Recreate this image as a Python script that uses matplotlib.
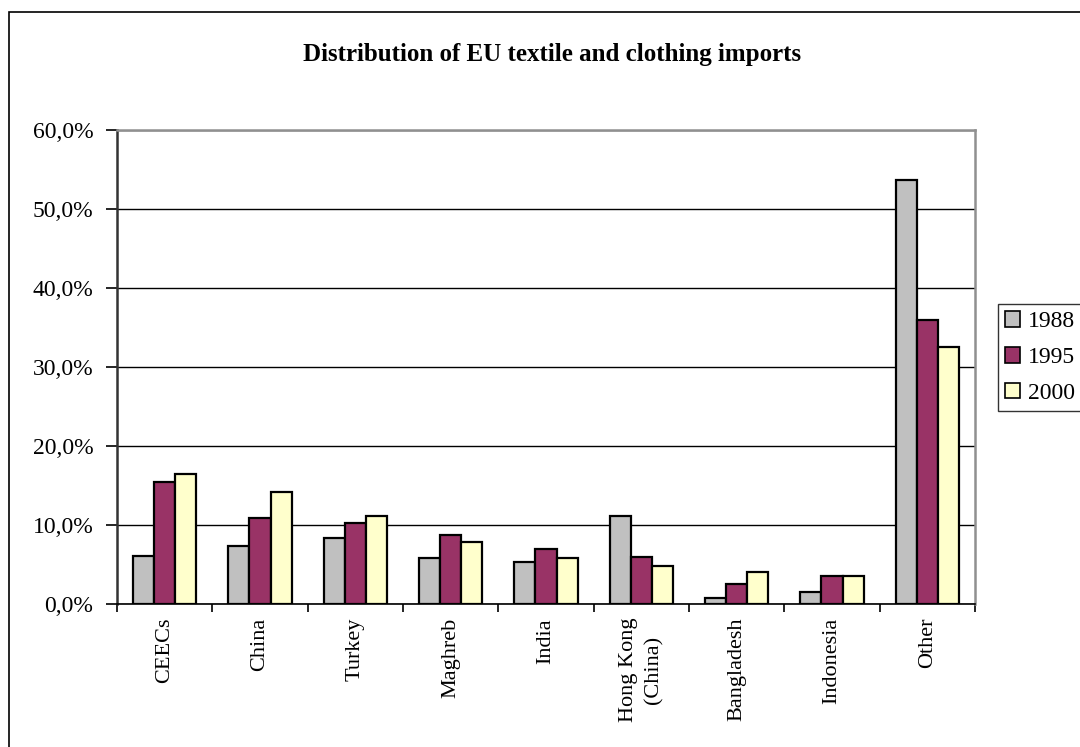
import matplotlib
matplotlib.use("Agg")
import matplotlib.pyplot as plt
import numpy as np
from matplotlib.patches import Rectangle
from matplotlib.ticker import FuncFormatter, FixedLocator

plt.rcParams["font.family"] = ["Liberation Serif", "DejaVu Serif"]

# Share of EU textile and clothing imports by origin (%)
categories = ["CEECs", "China", "Turkey", "Maghreb", "India",
              "Hong Kong\n(China)", "Bangladesh", "Indonesia", "Other"]
years = ["1988", "1995", "2000"]
share_1988 = [6.1, 7.3, 8.4, 5.8, 5.3, 11.1, 0.8, 1.5, 53.7]
share_1995 = [15.4, 10.9, 10.2, 8.7, 7.0, 6.0, 2.5, 3.5, 36.0]
share_2000 = [16.5, 14.2, 11.2, 7.9, 5.8, 4.8, 4.0, 3.5, 32.5]
series = [share_1988, share_1995, share_2000]
colors = ["#C0C0C0", "#993366", "#FFFFCC"]

fig = plt.figure(figsize=(10.8, 7.47), dpi=100)
ax = fig.add_axes([117 / 1080, 1 - 604 / 747, (975 - 117) / 1080, (604 - 130) / 747])

# outer chart frame
fig.patches.append(Rectangle((9 / 1080, -0.01), 1.0, 1 - 12 / 747 + 0.01,
                             transform=fig.transFigure, fill=False,
                             edgecolor="black", linewidth=1.2, clip_on=False))

x = np.arange(len(categories))
bar_w = 1 / 4.5
for i, (vals, col, yr) in enumerate(zip(series, colors, years)):
    ax.bar(x + (i - 1) * bar_w, vals, width=bar_w, color=col,
           edgecolor="black", linewidth=1.6, label=yr, zorder=3)

ax.set_xlim(-0.5, len(categories) - 0.5)
ax.set_ylim(0, 60)
ax.set_yticks(np.arange(0, 61, 10))
ax.yaxis.set_major_formatter(FuncFormatter(lambda v, p: f"{v:.1f}".replace(".", ",") + "%"))
ax.yaxis.grid(True, color="black", linewidth=1.0, zorder=0)
ax.set_axisbelow(True)

ax.set_xticks(x)
ax.set_xticklabels(categories, rotation=90, fontsize=16, linespacing=1.45)
ax.xaxis.set_minor_locator(FixedLocator(np.arange(-0.5, len(categories), 1.0)))
ax.tick_params(axis="x", which="major", length=0, pad=10)
ax.tick_params(axis="x", which="minor", length=6, width=1.2, direction="out", color="black")
ax.tick_params(axis="y", length=8, width=1.2, direction="out", labelsize=17, pad=9)

for side in ("top", "right"):
    ax.spines[side].set_color("#909090")
    ax.spines[side].set_linewidth(1.8)
ax.spines["left"].set_color("#333333")
ax.spines["left"].set_linewidth(1.8)
ax.spines["bottom"].set_color("black")
ax.spines["bottom"].set_linewidth(1.2)
ax.spines["bottom"].set_zorder(4)

fig.text(552 / 1080, 1 - 55 / 747, "Distribution of EU textile and clothing imports",
         ha="center", va="center", fontsize=18, fontweight="bold")

leg = ax.legend(loc="upper left", bbox_to_anchor=(998 / 1080, 1 - 304 / 747),
                bbox_transform=fig.transFigure, fontsize=17, frameon=True,
                fancybox=False, borderpad=0.3, labelspacing=0.62,
                handlelength=0.65, handleheight=0.65, handletextpad=0.3,
                borderaxespad=0)
leg.get_frame().set_edgecolor("black")
leg.get_frame().set_linewidth(1.0)
for h in leg.legend_handles:
    h.set_linewidth(1.2)

fig.savefig("out.png", dpi=100)
